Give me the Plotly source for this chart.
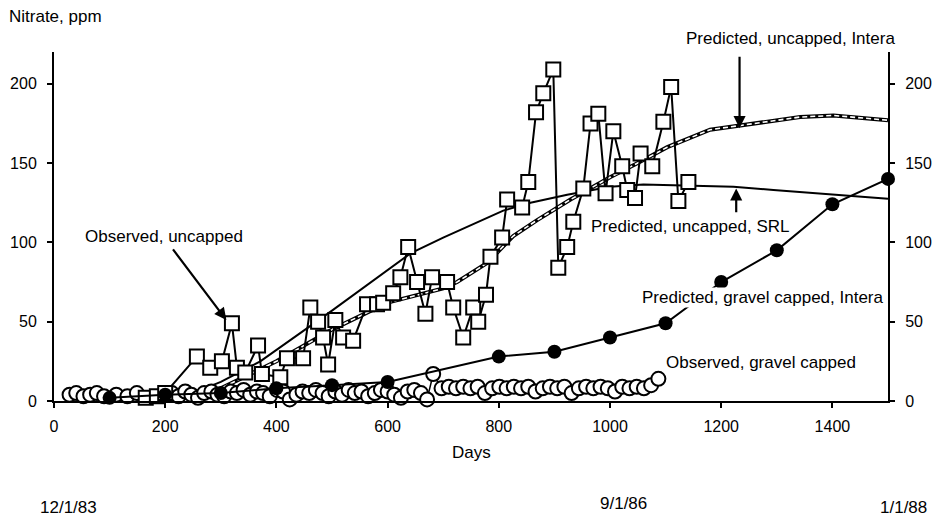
import plotly.graph_objects as go

# ---------------- data ----------------
# Observed, uncapped (open squares)
obs_uncapped_days = [165, 185, 200, 257, 281, 302, 320, 329, 344, 367, 374, 407, 419, 448,
                     461, 475, 484, 493, 506, 520, 538, 563, 581, 592, 610, 623, 637, 653,
                     668, 680, 707, 718, 736, 754, 763, 777, 785, 806, 815, 842, 853, 867,
                     880, 898, 907, 923, 934, 952, 965, 979, 992, 1006, 1022, 1031, 1045,
                     1055, 1076, 1096, 1110, 1123, 1141]
obs_uncapped_vals = [2, 3, 5, 28, 21, 25, 49, 21, 18, 35, 17, 15, 27, 27,
                     59, 50, 40, 23, 51, 40, 38, 61, 61, 62, 68, 78, 97, 75,
                     55, 78, 75, 59, 40, 59, 50, 67, 91, 103, 127, 122, 138, 182,
                     194, 209, 84, 97, 113, 134, 175, 181, 131, 170, 148, 133, 128,
                     156, 148, 176, 198, 126, 138]

# Observed, gravel capped (open circles)
obs_capped_days = [28, 40, 53, 65, 77, 90, 112, 132, 149,
                   212, 224, 236, 247, 259, 270, 283, 294, 306, 318, 329, 341, 353, 365,
                   376, 388, 401, 412, 424, 436, 447, 459, 471, 483, 494, 506, 518, 530,
                   541, 553, 565, 577, 588, 600, 612, 624, 636, 648, 660, 671, 682,
                   697, 710, 723, 736, 749, 762, 775, 788, 801, 814, 827, 840, 853, 866,
                   879, 892, 905, 918, 931, 944, 957, 970, 983, 996, 1009, 1022, 1035,
                   1048, 1061, 1074, 1087]
obs_capped_vals = [4, 5, 3, 4, 5, 3, 4, 3, 5,
                   5, 3, 6, 4, 2, 5, 6, 4, 3, 6, 5, 7, 4, 6,
                   5, 3, 7, 6, 1, 4, 6, 5, 7, 5, 3, 6, 4, 7,
                   5, 6, 3, 5, 7, 6, 4, 2, 6, 7, 5, 1, 17,
                   8, 9, 8, 9, 8, 9, 5, 8, 9, 8, 9, 8, 9, 6,
                   8, 9, 8, 9, 5, 8, 9, 8, 9, 8, 6, 9, 8,
                   9, 8, 10, 14]

# Predicted, uncapped, Intera (hatched line)
pred_intera_days = [250, 300, 400, 500, 600, 700, 725, 779, 826, 869, 929, 1000, 1050,
                    1103, 1180, 1260, 1342, 1402, 1450, 1500]
pred_intera_vals = [2, 8, 25, 45, 62, 71, 75, 87, 104, 114, 127, 141, 150,
                    160, 171, 175, 179, 180, 178.5, 177]

# Predicted, uncapped, SRL (solid line)
pred_srl_days = [150, 200, 250, 300, 371, 500, 641, 700, 808, 857, 923, 1000, 1060,
                 1121, 1222, 1294, 1402, 1500]
pred_srl_vals = [0, 1, 5, 12, 25, 57, 93, 103, 120, 125, 130, 135, 136.5,
                 136, 135, 133, 130, 127.5]

# Predicted, gravel capped, Intera (filled circles)
pred_capped_days = [100, 200, 300, 400, 500, 600, 800, 900, 1000, 1100, 1200, 1300, 1400, 1500]
pred_capped_vals = [2, 4, 5, 8, 10, 12, 28, 31, 40, 49, 75, 95, 124, 140]

x_ticks = [0, 200, 400, 600, 800, 1000, 1200, 1400]
y_ticks = [0, 50, 100, 150, 200]

FONT = "Arial, Liberation Sans, Helvetica, sans-serif"

fig = go.Figure()

# Intera uncapped: hatched double line
fig.add_trace(go.Scatter(x=pred_intera_days, y=pred_intera_vals, mode="lines",
                         line=dict(color="black", width=4), hoverinfo="skip",
                         showlegend=False, cliponaxis=False))
fig.add_trace(go.Scatter(x=pred_intera_days, y=pred_intera_vals, mode="lines",
                         line=dict(color="white", width=1.6, dash="5px,3px"),
                         hoverinfo="skip", showlegend=False, cliponaxis=False))

# SRL uncapped: solid line
fig.add_trace(go.Scatter(x=pred_srl_days, y=pred_srl_vals, mode="lines",
                         line=dict(color="black", width=2), hoverinfo="skip",
                         showlegend=False, cliponaxis=False))

# Observed gravel capped: open circles
fig.add_trace(go.Scatter(x=obs_capped_days, y=obs_capped_vals, mode="lines+markers",
                         line=dict(color="black", width=1.5),
                         marker=dict(symbol="circle", size=14, color="white",
                                     line=dict(color="black", width=2)),
                         showlegend=False, cliponaxis=False))

# Observed uncapped: open squares
fig.add_trace(go.Scatter(x=obs_uncapped_days, y=obs_uncapped_vals, mode="lines+markers",
                         line=dict(color="black", width=2),
                         marker=dict(symbol="square", size=14, color="white",
                                     line=dict(color="black", width=2)),
                         showlegend=False, cliponaxis=False))

# Predicted gravel capped Intera: filled circles
fig.add_trace(go.Scatter(x=pred_capped_days, y=pred_capped_vals, mode="lines+markers",
                         line=dict(color="black", width=2),
                         marker=dict(symbol="circle", size=14, color="black"),
                         showlegend=False, cliponaxis=False))

# invisible trace on right axis
fig.add_trace(go.Scatter(x=[0], y=[0], yaxis="y2", mode="markers",
                         marker=dict(opacity=0), hoverinfo="skip", showlegend=False))

# plot area in page pixels
PX0, PX1, PY0, PY1 = 54, 888, 52, 401
W, H = 933, 521

ann = []
def px(xp, yp):
    return (xp - PX0) / (PX1 - PX0), (PY1 - yp) / (PY1 - PY0)

def label(xp, yp, text, **kw):
    x, y = px(xp, yp)
    d = dict(x=x, y=y, xref="paper", yref="paper", text=text, showarrow=False,
             xanchor="center", yanchor="middle",
             font=dict(family=FONT, size=17, color="black"))
    d.update(kw)
    ann.append(d)

def arrow(xh, yh, xt, yt):
    ann.append(dict(x=xh, y=yh, ax=xt, ay=yt, xref="x", yref="y", axref="x", ayref="y",
                    text="", showarrow=True, arrowhead=2, arrowsize=1.1, arrowwidth=2.2,
                    arrowcolor="black"))

for (xp, yp, t) in [(55, 17, "Nitrate, ppm"), (164, 236, "Observed, uncapped"),
                    (790, 38, "Predicted, uncapped, Intera"),
                    (690, 226, "Predicted, uncapped, SRL"),
                    (761, 362, "Observed, gravel capped"),
                    (471, 452, "Days"),
                    (68, 507, "12/1/83"), (623, 503, "9/1/86"), (903, 507, "1/1/88")]:
    label(xp, yp, t)
label(763, 297, "Predicted, gravel capped, Intera", bgcolor="white", borderpad=0)

arrow(310, 51, 212, 96.5)
arrow(1233, 172, 1233, 218)
arrow(1227, 134, 1227, 118)

axis_common = dict(showgrid=False, zeroline=False, showline=True, linecolor="black",
                   linewidth=2, ticks="outside", ticklen=5, tickwidth=2, tickcolor="black",
                   automargin=False,
                   tickfont=dict(family=FONT, size=16, color="black"))

fig.update_layout(
    width=W, height=H,
    margin=dict(l=PX0, r=W - PX1, t=PY0, b=H - PY1),
    paper_bgcolor="white", plot_bgcolor="white",
    xaxis=dict(range=[0, 1500], tickvals=x_ticks, ticklabelstandoff=5, **axis_common),
    yaxis=dict(range=[0, 220], tickvals=y_ticks, ticklabelstandoff=7, **axis_common),
    yaxis2=dict(range=[0, 220], tickvals=y_ticks, overlaying="y", side="right",
                ticklabelstandoff=7, **axis_common),
    annotations=ann,
    showlegend=False,
)

fig.write_html("out.html",
               config={"displayModeBar": False},
               post_script="document.body.style.margin='0';"
                           "document.body.style.overflow='hidden';")
